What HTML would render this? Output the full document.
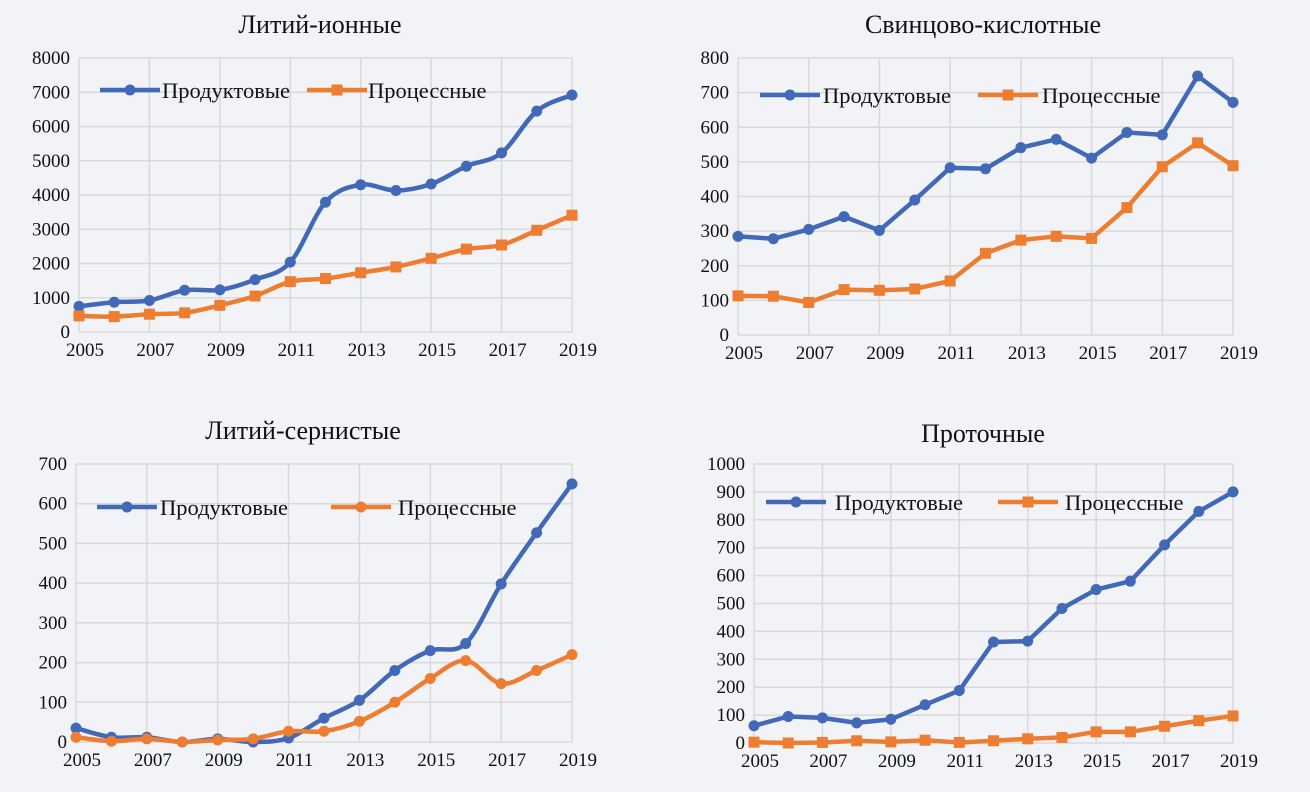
<!DOCTYPE html>
<html><head><meta charset="utf-8"><style>
html,body{margin:0;padding:0;background:#f2f3f7;}
svg{display:block;font-family:"Liberation Serif",serif;}
</style></head><body>
<svg id="s" width="1310" height="792" xmlns="http://www.w3.org/2000/svg">
<rect width="1310" height="792" fill="#f2f3f7"/>
</svg>
<script>
const years=[2005,2006,2007,2008,2009,2010,2011,2012,2013,2014,2015,2016,2017,2018,2019];
const xTicks=[2005,2007,2009,2011,2013,2015,2017,2019];
const liIonProduct=[750,870,920,1220,1230,1530,2040,3790,4300,4130,4320,4840,5230,6450,6920];
const liIonProcess=[470,450,520,560,780,1050,1470,1560,1730,1900,2150,2420,2540,2970,3410];
const leadProduct=[285,278,305,342,302,390,483,480,541,565,511,585,578,748,672];
const leadProcess=[113,112,94,131,129,133,156,236,274,285,279,368,486,555,489];
const liSProduct=[35,12,12,0,8,0,10,60,105,180,230,248,398,527,650];
const liSProcess=[12,2,8,0,5,8,27,27,52,100,160,205,147,180,220];
const flowProduct=[62,95,90,72,85,137,188,362,365,482,550,580,710,830,900];
const flowProcess=[3,0,2,8,4,10,2,8,15,20,40,40,60,80,97];
const yTicks1=[0,1000,2000,3000,4000,5000,6000,7000,8000];
const yTicks2=[0,100,200,300,400,500,600,700,800];
const yTicks3=[0,100,200,300,400,500,600,700];
const yTicks4=[0,100,200,300,400,500,600,700,800,900,1000];

const NS="http://www.w3.org/2000/svg";
const svg=document.getElementById('s');
function el(t,a,p){const e=document.createElementNS(NS,t);for(const k in a)e.setAttribute(k,a[k]);(p||svg).appendChild(e);return e;}
const BLUE="#4169b8",ORANGE="#ed7d31";

function chart(cfg){
  const g=el('g',{});
  
  
  const xs=v=>cfg.x0+(v-2005)/(14)*(cfg.x1-cfg.x0);
  const ymax=cfg.yt[cfg.yt.length-1];
  const ys=v=>cfg.y0+(v/ymax)*(cfg.y1-cfg.y0);
  const t=el('text',{x:cfg.tx,y:cfg.ty,'text-anchor':'middle','font-size':26,fill:'#111'},g);
  t.textContent=cfg.title;
  
  
  cfg.yt.forEach(v=>{
    const l=el('line',{x1:cfg.x0,x2:cfg.x1,y1:ys(v),y2:ys(v),stroke:'#d9d9d9','stroke-width':1.5},g);
    
    
    const tx=el('text',{x:cfg.x0-9,y:ys(v)+6,'text-anchor':'end','font-size':19,fill:'#111'},g);
    tx.textContent=v;
    
    
  });
  xTicks.forEach(v=>{
    const l=el('line',{x1:xs(v),x2:xs(v),y1:cfg.y0,y2:cfg.y1,stroke:'#d9d9d9','stroke-width':1.5},g);
    
    
    const tx=el('text',{x:xs(v)+6,y:cfg.y0+24,'text-anchor':'middle','font-size':19,fill:'#111'},g);
    tx.textContent=v;
    
    
  });
  [[cfg.s1,BLUE,'circle','product-series'],[cfg.s2,ORANGE,cfg.m2,'process-series']].forEach(([d,c,m,n])=>{
    const pts=d.map((v,i)=>[xs(years[i]),ys(v)]);
    let p='M'+pts[0][0]+','+pts[0][1];
    for(let i=1;i<pts.length;i++){
      if(cfg.smooth){
        const p0=pts[Math.max(0,i-2)],p1=pts[i-1],p2=pts[i],p3=pts[Math.min(pts.length-1,i+1)];
        const k=6;
        p+=` C${p1[0]+(p2[0]-p0[0])/k},${p1[1]+(p2[1]-p0[1])/k} ${p2[0]-(p3[0]-p1[0])/k},${p2[1]-(p3[1]-p1[1])/k} ${p2[0]},${p2[1]}`;
      } else p+=' L'+pts[i][0]+','+pts[i][1];
    }
    const path=el('path',{d:p,fill:'none',stroke:c,'stroke-width':4.5,'stroke-linejoin':'round'},g);
    
    
    pts.forEach(q=>{
      const mk=m==='circle'?el('circle',{cx:q[0],cy:q[1],r:5.5,fill:c},g):el('rect',{x:q[0]-5.5,y:q[1]-5.5,width:11,height:11,fill:c},g);
      
      
    });
  });
  const L=cfg.leg;
  [[L[0],L[1],BLUE,'circle','Продуктовые','legend-product'],[L[2],L[3],ORANGE,cfg.m2,'Процессные','legend-process']].forEach(([lx,tx,c,m,txt,n])=>{
    const lg=el('g',{},g);
    
    
    el('line',{x1:lx,x2:lx+60,y1:L[4],y2:L[4],stroke:c,'stroke-width':4.5},lg);
    if(m==='circle')el('circle',{cx:lx+30,cy:L[4],r:5.5,fill:c},lg);else el('rect',{x:lx+24.5,y:L[4]-5.5,width:11,height:11,fill:c},lg);
    const t2=el('text',{x:tx,y:L[4]+8,'font-size':22.5,fill:'#111'},lg);t2.textContent=txt;
  });
}
chart({name:'li-ion-chart',title:'Литий-ионные',tx:320,ty:33,x0:79,x1:572,y0:332,y1:58,yt:yTicks1,s1:liIonProduct,s2:liIonProcess,m2:'rect',smooth:true,leg:[100,162,307,368,90]});
chart({name:'lead-acid-chart',title:'Свинцово-кислотные',tx:983,ty:33,x0:738,x1:1233,y0:335,y1:58,yt:yTicks2,s1:leadProduct,s2:leadProcess,m2:'rect',smooth:false,leg:[760,823,978,1042,95]});
chart({name:'li-s-chart',title:'Литий-сернистые',tx:303,ty:439,x0:76,x1:572,y0:742,y1:464,yt:yTicks3,s1:liSProduct,s2:liSProcess,m2:'circle',smooth:true,leg:[97,160,331,398,507]});
chart({name:'flow-chart',title:'Проточные',tx:983,ty:442,x0:754,x1:1233,y0:743,y1:464,yt:yTicks4,s1:flowProduct,s2:flowProcess,m2:'rect',smooth:false,leg:[766,835,998,1065,502]});
</script>
</body></html>
